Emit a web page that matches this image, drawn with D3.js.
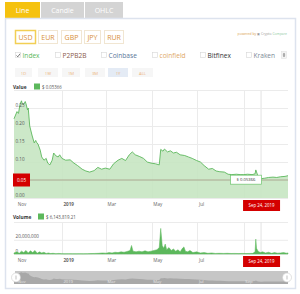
<!DOCTYPE html>
<html>
<head>
<meta charset="utf-8">
<script src="https://cdn.jsdelivr.net/npm/d3@7"></script>
<style>
  body { margin: 0; background: #fff; font-family: "Open Sans", sans-serif; }
  svg { display: block; }
</style>
</head>
<body>
<svg id="chart" width="300" height="294"></svg>
<script>
// chart data
const priceDates = ["2018-10-29","2018-11-02","2018-11-04","2018-11-06","2018-11-08","2018-11-09","2018-11-11","2018-11-13","2018-11-14","2018-11-16","2018-11-17","2018-11-19","2018-11-22","2018-11-25","2018-11-27","2018-11-28","2018-11-30","2018-12-03","2018-12-05","2018-12-08","2018-12-11","2018-12-13","2018-12-16","2018-12-19","2018-12-21","2018-12-24","2018-12-27","2018-12-29","2019-01-01","2019-01-06","2019-01-12","2019-01-17","2019-01-22","2019-01-28","2019-02-02","2019-02-07","2019-02-13","2019-02-18","2019-02-23","2019-02-28","2019-03-06","2019-03-11","2019-03-17","2019-03-22","2019-03-27","2019-04-01","2019-04-05","2019-04-09","2019-04-15","2019-04-20","2019-04-25","2019-04-30","2019-05-06","2019-05-11","2019-05-13","2019-05-16","2019-05-18","2019-05-22","2019-05-26","2019-05-30","2019-06-03","2019-06-08","2019-06-14","2019-06-19","2019-06-24","2019-06-30","2019-07-05","2019-07-10","2019-07-16","2019-07-21","2019-07-26","2019-07-31","2019-08-06","2019-08-11","2019-08-16","2019-08-22","2019-08-27","2019-09-01","2019-09-06","2019-09-12","2019-09-16","2019-09-17","2019-09-20","2019-09-24","2019-09-29","2019-10-04","2019-10-10","2019-10-15","2019-10-20","2019-10-26","2019-10-30"];
const priceValues = [0.22,0.24,0.235,0.26,0.27,0.262,0.26,0.268,0.262,0.245,0.25,0.20,0.175,0.153,0.16,0.155,0.15,0.133,0.114,0.105,0.11,0.097,0.092,0.105,0.125,0.117,0.114,0.12,0.11,0.105,0.106,0.097,0.09,0.08,0.075,0.072,0.076,0.085,0.08,0.083,0.08,0.095,0.105,0.11,0.104,0.12,0.128,0.12,0.115,0.11,0.1,0.097,0.095,0.092,0.135,0.13,0.136,0.128,0.131,0.125,0.127,0.12,0.118,0.114,0.11,0.104,0.1,0.09,0.08,0.082,0.075,0.073,0.072,0.066,0.065,0.066,0.065,0.065,0.066,0.065,0.067,0.078,0.06,0.0537,0.055,0.057,0.058,0.057,0.059,0.06,0.062];

const volumeDates = ["2018-10-29","2018-11-02","2018-11-05","2018-11-08","2018-11-11","2018-11-14","2018-11-17","2018-11-20","2018-11-23","2018-11-26","2018-11-29","2018-12-02","2018-12-05","2018-12-08","2018-12-11","2018-12-14","2018-12-17","2018-12-20","2018-12-24","2018-12-28","2019-01-01","2019-01-05","2019-01-10","2019-01-15","2019-01-20","2019-01-25","2019-01-30","2019-02-04","2019-02-09","2019-02-14","2019-02-19","2019-02-24","2019-03-01","2019-03-05","2019-03-09","2019-03-13","2019-03-17","2019-03-21","2019-03-25","2019-03-29","2019-04-02","2019-04-04","2019-04-06","2019-04-10","2019-04-14","2019-04-18","2019-04-22","2019-04-26","2019-04-30","2019-05-04","2019-05-08","2019-05-11","2019-05-13","2019-05-15","2019-05-17","2019-05-19","2019-05-21","2019-05-24","2019-05-27","2019-05-30","2019-06-02","2019-06-05","2019-06-08","2019-06-11","2019-06-13","2019-06-15","2019-06-18","2019-06-21","2019-06-25","2019-06-30","2019-07-05","2019-07-10","2019-07-15","2019-07-20","2019-07-25","2019-07-30","2019-08-05","2019-08-10","2019-08-15","2019-08-20","2019-08-25","2019-08-30","2019-09-04","2019-09-09","2019-09-13","2019-09-16","2019-09-17","2019-09-18","2019-09-20","2019-09-23","2019-09-26","2019-09-30","2019-10-04","2019-10-08","2019-10-12","2019-10-16","2019-10-20","2019-10-24","2019-10-28","2019-10-30"];
const volumeValues = [1.5,3,1,4,2,5,1.5,4.5,2,5,1,3,1.5,2.5,0.8,1.5,0.6,1,0.5,0.8,0.4,0.3,0.4,0.3,0.3,0.4,0.3,0.5,0.6,0.8,1,1.5,1.2,2,1.5,2.5,2,3,2.5,3.5,5,12,4,3,4,3,4.5,3,4,5,6,9,36,12,8,14,6,9,5,7,4,6,3,8,10,4,3,5,2,3,1.5,2,1,1.5,0.8,1,0.8,1,0.7,0.8,0.6,0.8,0.7,0.8,0.9,3,21,8,4,2,3,1.5,2.5,1,2,1.2,1.5,2,1.2,1.5].map(v => v * 1e6);

const monthTicks = ["2018-11-01","2019-01-01","2019-03-01","2019-05-01","2019-07-01","2019-09-01"];
const priceTicks = [0, 0.05, 0.10, 0.15, 0.20, 0.25];
const volumeTicks = [0, 20000000];

const tabs = ["Line", "Candle", "OHLC"];
const currencies = ["USD", "EUR", "GBP", "JPY", "RUR"];
const exchanges = ["Index", "P2PB2B", "Coinbase", "coinfield", "Bitfinex", "Kraken"];
const ranges = ["1D", "1W", "1M", "3M", "1Y", "ALL"];

const hoverDate = "2019-09-24";
const hoverPrice = 0.05366;
const hoverVolume = 6143819.21;
const cursorPrice = 0.05;

// helpers
const parse = d3.timeParse("%Y-%m-%d");
const price = priceDates.map((d, i) => ({ date: parse(d), value: priceValues[i] }));
const volume = volumeDates.map((d, i) => ({ date: parse(d), value: volumeValues[i] }));

const svg = d3.select("#chart");
const FONT = '"Open Sans", sans-serif';

// ---- tabs ----
const tabX = [5, 41, 85], tabW = [35, 43, 38];
tabs.forEach((t, i) => {
  svg.append("rect").attr("x", tabX[i]).attr("y", 2).attr("width", tabW[i]).attr("height", 16)
    .attr("fill", i === 0 ? "#f5c20f" : "#d4d4d4");
  svg.append("text").attr("x", tabX[i] + tabW[i] / 2).attr("y", 13).attr("text-anchor", "middle")
    .attr("font-size", 7).attr("fill", "#fff").text(t);
});

// panel
svg.append("rect").attr("x", 5.5).attr("y", 18.5).attr("width", 290).attr("height", 270)
  .attr("fill", "#fff").attr("stroke", "#dde3ee").attr("stroke-width", 1.5);

// ---- currencies ----
const curX = [15, 38, 61, 84, 104], curW = [20, 19, 20, 16, 19];
currencies.forEach((c, i) => {
  svg.append("rect").attr("x", curX[i] + 0.5).attr("y", 30.5).attr("width", curW[i]).attr("height", 13)
    .attr("fill", "#fff").attr("stroke", i === 0 ? "#f2cf54" : "#f1e6d2").attr("stroke-width", i === 0 ? 1.5 : 1);
  svg.append("text").attr("x", curX[i] + 0.5 + curW[i] / 2).attr("y", 40.2).attr("text-anchor", "middle")
    .attr("font-size", 7).attr("fill", "#d8903a").text(c);
});

// powered by
const pw = svg.append("text").attr("x", 287).attr("y", 34.5).attr("text-anchor", "end").attr("font-size", 3.4);
pw.append("tspan").attr("fill", "#d9a050").text("powered by  ");
pw.append("tspan").attr("fill", "#999").text("\u25A3 Crypto ");
pw.append("tspan").attr("fill", "#8fc9a0").text("Compare");

// ---- exchanges ----
const exX = [15, 55, 101, 152, 200, 246];
const exColor = ["#5cb85c", "#8a5a4a", "#5a7699", "#e0a868", "#333", "#7d8a97"];
exchanges.forEach((e, i) => {
  svg.append("rect").attr("x", exX[i] + 0.5).attr("y", 52.5).attr("width", 5).attr("height", 5)
    .attr("fill", "#fff").attr("stroke", "#d6d6d6").attr("stroke-width", 0.6);
  if (i === 0) {
    svg.append("path").attr("d", `M${exX[i] + 1.5},55.5 l1.3,1.3 l2.2,-3`)
      .attr("fill", "none").attr("stroke", "#444").attr("stroke-width", 0.7);
  }
  svg.append("text").attr("x", exX[i] + 7.5).attr("y", 58)
    .attr("font-size", 6.6).attr("fill", exColor[i]).text(e);
});
// spinner
svg.append("rect").attr("x", 281.5).attr("y", 51.5).attr("width", 5).attr("height", 7)
  .attr("fill", "#f3f3f3").attr("stroke", "#ddd").attr("stroke-width", 0.5);
svg.append("path").attr("d", "M282.7,54.5 l1.3,-1.5 l1.3,1.5 z M282.7,55.6 l1.3,1.5 l1.3,-1.5 z").attr("fill", "#666");

// ---- ranges ----
const rX = [15, 38, 62, 85, 108, 132], rW = [17, 20, 18, 20, 20, 21];
ranges.forEach((r, i) => {
  svg.append("rect").attr("x", rX[i]).attr("y", 68).attr("width", rW[i]).attr("height", 9)
    .attr("fill", i === 4 ? "#e4ebf5" : "#f6f6f6");
  svg.append("text").attr("x", rX[i] + rW[i] / 2).attr("y", 74.5).attr("text-anchor", "middle")
    .attr("font-size", 4.2).attr("fill", "#ecb47c").text(r);
});

// ---- scales ----
const x = d3.scaleTime().domain([parse("2018-10-29"), parse("2019-10-30")]).range([14, 288]);
const yP = d3.scaleLinear().domain([0, 0.3]).range([198, 90]);
const yV = d3.scaleLinear().domain([0, 45e6]).range([254, 222]);
const tickDates = monthTicks.map(parse);
// the Sep label sits under the red crosshair date box
const labelDates = tickDates.slice(0, -1);
const fmtMonth = d => (d.getMonth() === 0 ? d3.timeFormat("%Y")(d) : d3.timeFormat("%b")(d));
const hx = x(parse(hoverDate));

function legend(y, label, valueText, labelW) {
  svg.append("text").attr("x", 13).attr("y", y).attr("font-size", 4.8).attr("font-weight", "bold")
    .attr("fill", "#333").text(label);
  svg.append("rect").attr("x", 13 + labelW).attr("y", y - 5).attr("width", 6).attr("height", 6).attr("fill", "#5cb85c");
  svg.append("text").attr("x", 21 + labelW).attr("y", y).attr("font-size", 4.4).attr("fill", "#555").text(valueText);
}

function vGrid(bottom, top) {
  svg.append("g").selectAll("line").data(tickDates.slice(1)).join("line")
    .attr("x1", d => Math.round(x(d)) + 0.5).attr("x2", d => Math.round(x(d)) + 0.5)
    .attr("y1", top).attr("y2", bottom).attr("stroke", "#ebebeb").attr("stroke-width", 1);
  svg.append("line").attr("x1", hx).attr("x2", hx).attr("y1", top).attr("y2", bottom).attr("stroke", "#e2e2e2");
}

function xLabels(yPos) {
  const g = svg.append("g").attr("transform", `translate(0,${yPos})`)
    .call(d3.axisBottom(x).tickValues(labelDates).tickSize(0).tickFormat(fmtMonth));
  g.select(".domain").remove();
  g.selectAll("text").attr("text-anchor", "start").attr("dx", 1).attr("dy", "0.55em")
    .attr("font-family", FONT).attr("font-size", 4.6).attr("fill", "#666")
    .attr("font-weight", d => (d.getMonth() === 0 ? "bold" : "normal"));
  return g;
}

function redDate(yTop) {
  svg.append("rect").attr("x", hx - 18).attr("y", yTop).attr("width", 37).attr("height", 11).attr("fill", "#d40000");
  svg.append("text").attr("x", hx + 0.5).attr("y", yTop + 7.3).attr("text-anchor", "middle")
    .attr("font-size", 4.4).attr("fill", "#fff").text(d3.timeFormat("%b %d, %Y")(parse(hoverDate)));
}

// ---- price chart ----
legend(88.5, "Value", "$ " + hoverPrice.toFixed(5), 21);

vGrid(198, 91);
const gridP = svg.append("g").attr("transform", "translate(14,0)")
  .call(d3.axisRight(yP).tickValues(priceTicks.concat([0.3])).tickSize(274).tickFormat(""));
gridP.select(".domain").remove();
gridP.selectAll("line").attr("stroke", "#ebebeb");

svg.append("path").datum(price)
  .attr("d", d3.area().x(d => x(d.date)).y0(yP(0)).y1(d => yP(d.value)))
  .attr("fill", "#c6e6c2").attr("fill-opacity", 0.9);
svg.append("path").datum(price)
  .attr("d", d3.line().x(d => x(d.date)).y(d => yP(d.value)))
  .attr("fill", "none").attr("stroke", "#5cb85c").attr("stroke-width", 0.9);

// y labels on top of the area; 0.05 is covered by the red cursor label
const yAxisP = svg.append("g").attr("transform", "translate(14,0)")
  .call(d3.axisRight(yP).tickValues(priceTicks.filter(t => t !== cursorPrice)).tickSize(0).tickFormat(d => d.toFixed(2)));
yAxisP.select(".domain").remove();
yAxisP.selectAll("text").attr("x", 1.5).attr("dy", -2).attr("text-anchor", "start")
  .attr("font-family", FONT).attr("font-size", 4.6).attr("fill", "#555");

// crosshair
svg.append("line").attr("x1", 14).attr("x2", 288).attr("y1", yP(cursorPrice)).attr("y2", yP(cursorPrice))
  .attr("stroke", "#a08e7c").attr("stroke-width", 0.7);
svg.append("rect").attr("x", 13).attr("y", yP(cursorPrice) - 6.5).attr("width", 17).attr("height", 13).attr("fill", "#d40000");
svg.append("text").attr("x", 21.5).attr("y", yP(cursorPrice) + 1.6).attr("text-anchor", "middle")
  .attr("font-size", 4.6).attr("fill", "#fff").text(cursorPrice.toFixed(2));
// tooltip
svg.append("rect").attr("x", 230.5).attr("y", yP(hoverPrice) - 3.5).attr("width", 31).attr("height", 9)
  .attr("fill", "#fff").attr("stroke", "#6cc36c").attr("stroke-width", 0.7);
svg.append("text").attr("x", 246).attr("y", yP(hoverPrice) + 2.6).attr("text-anchor", "middle")
  .attr("font-size", 4.2).attr("fill", "#333").text("$ " + hoverPrice.toFixed(5));

xLabels(200);
redDate(200);

// ---- volume chart ----
legend(218.5, "Volume", "$ " + d3.format(",.2f")(hoverVolume), 25);
svg.append("line").attr("x1", 14).attr("x2", 288).attr("y1", 222.5).attr("y2", 222.5).attr("stroke", "#ebebeb");
vGrid(254, 222);
const yAxisV = svg.append("g").attr("transform", "translate(14,0)")
  .call(d3.axisRight(yV).tickValues(volumeTicks).tickSize(274).tickFormat(d3.format(",")));
yAxisV.select(".domain").remove();
yAxisV.selectAll("line").attr("stroke", "#ebebeb");
yAxisV.selectAll("text").attr("x", 1.5).attr("dy", -2).attr("text-anchor", "start")
  .attr("font-family", FONT).attr("font-size", 4.6).attr("fill", "#555");

svg.append("path").datum(volume)
  .attr("d", d3.area().x(d => x(d.date)).y0(yV(0)).y1(d => yV(d.value)))
  .attr("fill", "#5cb85c").attr("stroke", "#5cb85c").attr("stroke-width", 0.5);

xLabels(256);
redDate(256);

// ---- navigator ----
const yN = d3.scaleLinear().domain([0, 0.3]).range([284, 271]);
svg.append("rect").attr("x", 15).attr("y", 271).attr("width", 273).attr("height", 13).attr("fill", "#c6c6c6");
svg.append("path").datum(price)
  .attr("d", d3.area().x(d => x(d.date)).y0(284).y1(d => yN(d.value)))
  .attr("fill", "#a8a8a8");
const nav = svg.append("g").attr("transform", "translate(0,279)")
  .call(d3.axisBottom(x).tickValues(tickDates).tickSize(0).tickFormat(fmtMonth));
nav.select(".domain").remove();
nav.selectAll("text").attr("text-anchor", "start").attr("dx", 1).attr("dy", "0.35em")
  .attr("font-family", FONT).attr("font-size", 4.2).attr("fill", "#e6e6e6");
[16, 287].forEach(cx => {
  svg.append("circle").attr("cx", cx).attr("cy", 277.5).attr("r", 4.5)
    .attr("fill", "#fff").attr("stroke", "#ccc").attr("stroke-width", 0.6);
  svg.append("line").attr("x1", cx).attr("x2", cx).attr("y1", 275.5).attr("y2", 279.5).attr("stroke", "#999").attr("stroke-width", 0.6);
});
</script>
</body>
</html>
